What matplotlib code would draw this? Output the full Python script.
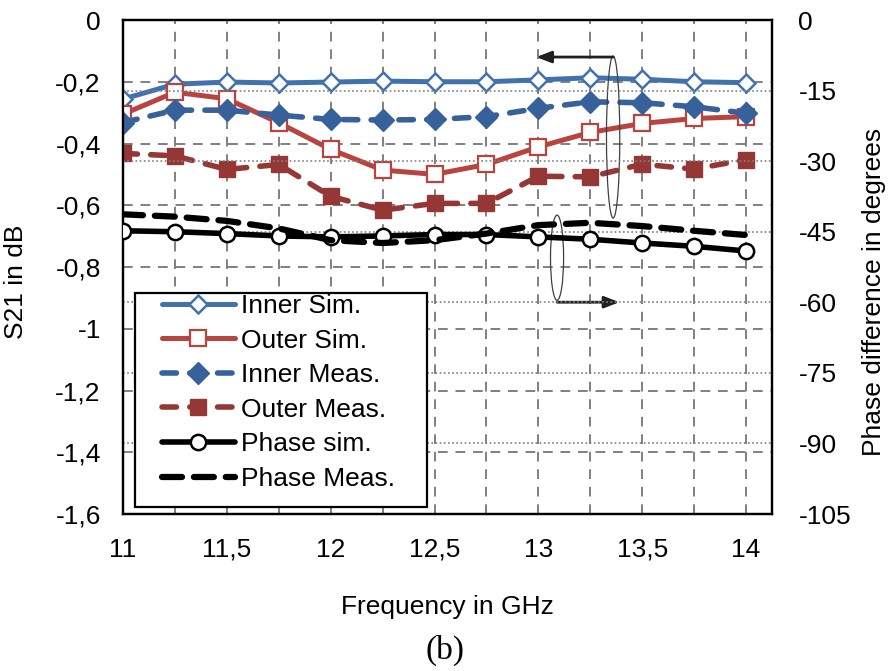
import numpy as np
import matplotlib
matplotlib.use("Agg")
import matplotlib.pyplot as plt
from matplotlib.patches import Ellipse, Rectangle
from matplotlib.ticker import FuncFormatter

plt.rcParams['font.family'] = ['Liberation Sans', 'DejaVu Sans']

freq = [11, 11.25, 11.5, 11.75, 12, 12.25, 12.5, 12.75, 13, 13.25, 13.5, 13.75, 14]

inner_sim = [-0.256, -0.208, -0.201, -0.204, -0.201, -0.198, -0.200,
             -0.200, -0.194, -0.187, -0.192, -0.200, -0.203]
outer_sim = [-0.305, -0.234, -0.255, -0.333, -0.419, -0.486, -0.500,
             -0.468, -0.411, -0.364, -0.335, -0.319, -0.313]
inner_meas = [-0.332, -0.292, -0.292, -0.308, -0.322, -0.324, -0.322,
              -0.313, -0.286, -0.265, -0.268, -0.281, -0.302]
outer_meas = [-0.432, -0.440, -0.484, -0.468, -0.571, -0.616, -0.594,
              -0.594, -0.506, -0.508, -0.467, -0.483, -0.452]
phase_sim = [-44.8, -45.0, -45.4, -45.9, -46.1, -45.9, -45.6,
             -45.6, -46.1, -46.6, -47.4, -48.1, -49.1]
phase_meas = [-41.3, -41.8, -42.7, -44.3, -46.8, -47.4, -46.8,
              -45.4, -43.6, -43.1, -43.8, -44.8, -45.7]

FS = 19
BLUE = '#4272ad'
BLUE_D = '#36619a'
RED = '#b9433e'
RED_D = '#953735'

W, H = 891, 671
fig = plt.figure(figsize=(W / 100, H / 100), dpi=100)
ax = fig.add_axes([123 / W, 1 - 514 / H, (772 - 123) / W, (514 - 20) / H])
ax2 = ax.twinx()

# left axis: S21
l1, = ax.plot(freq, inner_sim, color=BLUE, lw=3.6, marker='D', ms=9,
              mfc='white', mec=BLUE, mew=1.8, solid_capstyle='round', zorder=5)
l2, = ax.plot(freq, outer_sim, color=RED, lw=3.6, marker='s', ms=12,
              mfc='white', mec=RED, mew=1.6, solid_capstyle='round', zorder=5)
l3, = ax.plot(freq, inner_meas, color=BLUE_D, lw=4, marker='D', ms=11,
              mfc=BLUE_D, mec=BLUE_D, dashes=(2.6, 2.4), dash_capstyle='round', zorder=5)
l4, = ax.plot(freq, outer_meas, color=RED_D, lw=4, marker='s', ms=12,
              mfc=RED_D, mec=RED_D, dashes=(2.6, 2.4), dash_capstyle='round', zorder=5)

# right axis: phase
l5, = ax2.plot(freq, phase_sim, color='black', lw=4, marker='o', ms=11,
               mfc='white', mec='black', mew=1.8, solid_capstyle='round', zorder=5)
l6, = ax2.plot(freq, phase_meas, color='black', lw=4.5,
               dashes=(3.2, 1.9), dash_capstyle='round', zorder=5)

ax.set_xlim(11, 14.125)
ax.set_ylim(-1.6, 0)
ax2.set_ylim(-105, 0)

ax.set_xticks(np.arange(11, 14.01, 0.25))
ax.set_yticks(np.arange(-1.6, 0.01, 0.2))
ax2.set_yticks(np.arange(-105, 1, 15))


def comma(v):
    s = ('%.1f' % v).rstrip('0').rstrip('.')
    if s == '-0':
        s = '0'
    return s.replace('.', ',')


def xfmt(v, pos):
    if abs(v * 2 - round(v * 2)) > 1e-6:
        return ''
    return comma(v)


ax.xaxis.set_major_formatter(FuncFormatter(xfmt))
ax.yaxis.set_major_formatter(FuncFormatter(lambda v, p: comma(v)))
ax2.yaxis.set_major_formatter(FuncFormatter(lambda v, p: '%d' % round(v)))

ax.tick_params(axis='x', direction='in', length=6, color='#808080', width=1.2,
               labelsize=FS, pad=17)
ax.tick_params(axis='y', length=0, labelsize=FS, pad=16)
ax2.tick_params(axis='y', length=0, labelsize=FS, pad=19)

ax.grid(True, axis='both', color='#808080', lw=1.4, dashes=(5, 4))
ax2.grid(True, axis='y', color='#808080', lw=1.2, linestyle=(0, (1, 1.5)))

for a in (ax, ax2):
    for sp in a.spines.values():
        sp.set_linewidth(1.6)
        sp.set_color('black')

ax.set_xlabel('Frequency in GHz', fontsize=FS, labelpad=24)
ax.set_ylabel('S21 in dB', fontsize=FS)
ax2.set_ylabel('Phase difference in degrees', fontsize=FS)
ax.yaxis.set_label_coords(-0.146, 0.47)
ax2.yaxis.set_label_coords(1.139, 0.45)

# annotation ellipses and arrows
ax.add_patch(Ellipse((13.36, -0.379), 0.064, 0.525, fill=False, ec='#404040', lw=0.9, zorder=6))
ax.add_patch(Ellipse((13.09, -0.770), 0.063, 0.276, fill=False, ec='#404040', lw=0.9, zorder=6))
ax.annotate('', xy=(12.99, -0.120), xytext=(13.36, -0.120),
            arrowprops=dict(arrowstyle='-|>,head_length=0.9,head_width=0.35',
                            color='#202020', lw=2, shrinkA=0, shrinkB=0), zorder=6)
ax.annotate('', xy=(13.39, -0.914), xytext=(13.09, -0.914),
            arrowprops=dict(arrowstyle='-|>,head_length=0.9,head_width=0.35',
                            color='#202020', lw=2, shrinkA=0, shrinkB=0), zorder=6)

# legend box drawn separately (wider padding than matplotlib's frame)
ax_w, ax_h = 772 - 123, 514 - 20
box = Rectangle(((135 - 123) / ax_w, (514 - 507) / ax_h), (427 - 135) / ax_w, (507 - 293) / ax_h,
                transform=ax2.transAxes, fc='white', ec='black', lw=1.6, zorder=9)
ax2.add_patch(box)
leg = ax2.legend([l1, l2, l3, l4, l5, l6],
                 ['Inner Sim.', 'Outer Sim.', 'Inner Meas.', 'Outer Meas.',
                  'Phase sim.', 'Phase Meas.'],
                 loc='upper left', bbox_to_anchor=((162 - 123) / ax_w, 1 - (294 - 20) / ax_h),
                 fontsize=FS, frameon=False,
                 handlelength=2.75, handletextpad=0.25, labelspacing=0.4,
                 borderpad=0.0, borderaxespad=0)
leg.set_zorder(10)

fig.text(445 / W, 1 - 650 / H, '(b)', ha='center', va='center',
         fontsize=24, family='Liberation Serif')

fig.savefig('out.png', dpi=100)
